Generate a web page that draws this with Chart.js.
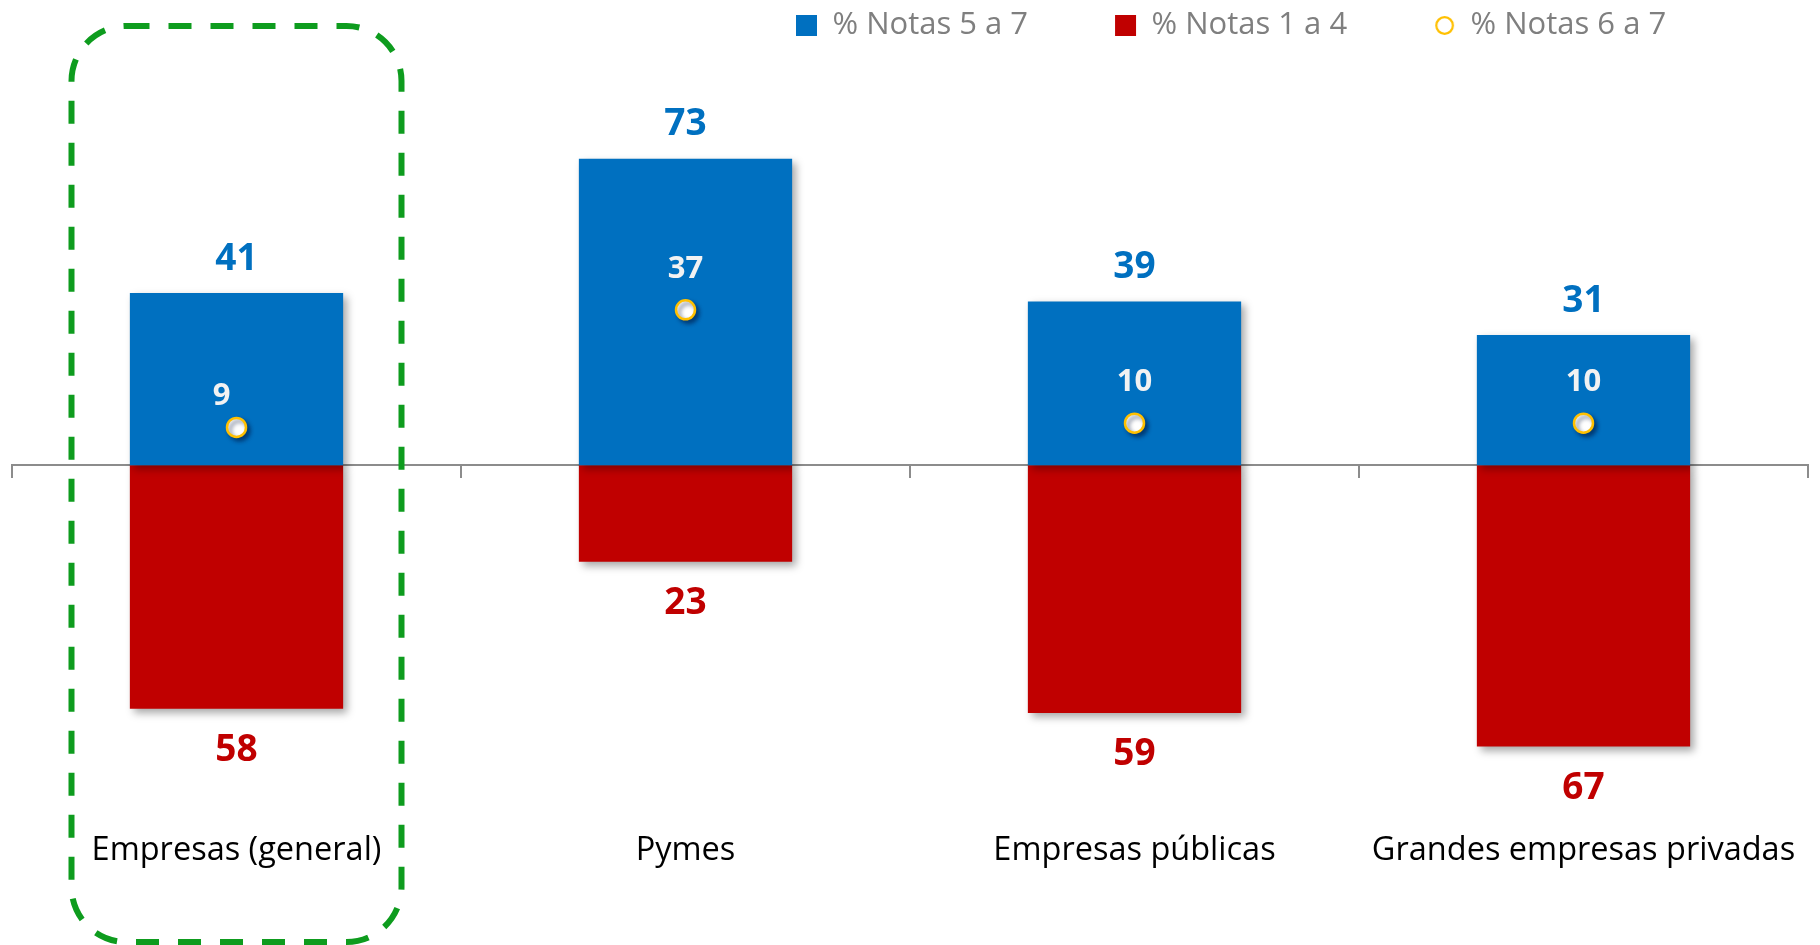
<!DOCTYPE html>
<html>
<head>
<meta charset="utf-8">
<title>Notas por tipo de empresa</title>
<script src="https://cdn.jsdelivr.net/npm/chart.js@4.4.1/dist/chart.umd.min.js"></script>
<style>
    html, body { margin: 0; padding: 0; background: #ffffff; }
    #wrap { width: 1820px; height: 945px; }
</style>
</head>
<body>
<div id="wrap"><canvas id="notasChart"></canvas></div>
<script>
const categories = ["Empresas (general)", "Pymes", "Empresas públicas", "Grandes empresas privadas"];
const seriesNames = ["% Notas 5 a 7", "% Notas 1 a 4", "% Notas 6 a 7"];
const notas57 = [41, 73, 39, 31];
const notas14 = [58, 23, 59, 67];
const notas67 = [9, 37, 10, 10];

const BLUE = "#0070C0";
const RED = "#C00000";
const GOLD = "#FFC000";
const GREEN = "#0e9c1e";
const AXIS_GRAY = "#8c8c8c";

// the label of the first point was moved by hand in the original
const pointLabelNudge = [[-15, -31], [0, -41], [0, -41], [0, -41]];

// small gold ring for the legend
const ring = document.createElement("canvas");
ring.width = 21;
ring.height = 21;
(function () {
    const c = ring.getContext("2d");
    c.beginPath();
    c.arc(10.5, 10.5, 8.3, 0, Math.PI * 2);
    c.fillStyle = "#ffffff";
    c.fill();
    c.lineWidth = 2.2;
    c.strokeStyle = GOLD;
    c.stroke();
})();
const legendStyles = ["rect", "rect", ring];

// shadow under the bars and the points
const shadowPlugin = {
    id: "shadow",
    beforeDatasetDraw(chart, args) {
        const ctx = chart.ctx;
        ctx.save();
        if (args.meta.type === "bar") {
            ctx.shadowColor = "rgba(0, 0, 0, 0.35)";
            ctx.shadowBlur = 8;
            ctx.shadowOffsetX = 4;
            ctx.shadowOffsetY = 4;
        } else {
            ctx.shadowColor = "rgba(0, 20, 60, 0.55)";
            ctx.shadowBlur = 4;
            ctx.shadowOffsetX = 3;
            ctx.shadowOffsetY = 3;
        }
    },
    afterDatasetDraw(chart) {
        chart.ctx.restore();
    },
};

// value labels on top / bottom of the bars and above the points
const labelPlugin = {
    id: "valueLabels",
    afterDatasetsDraw(chart) {
        const ctx = chart.ctx;
        ctx.save();
        ctx.textAlign = "center";
        ctx.textBaseline = "middle";

        ctx.font = "bold 37px 'Open Sans'";
        ctx.fillStyle = BLUE;
        chart.getDatasetMeta(0).data.forEach((bar, i) => {
            ctx.fillText(notas57[i], bar.x, bar.y - 34);
        });

        ctx.fillStyle = RED;
        chart.getDatasetMeta(1).data.forEach((bar, i) => {
            ctx.fillText(notas14[i], bar.x, bar.y + 42);
        });

        ctx.font = "bold 31px 'Open Sans'";
        ctx.fillStyle = "#f2f2f2";
        chart.getDatasetMeta(2).data.forEach((pt, i) => {
            const [dx, dy] = pointLabelNudge[i];
            ctx.fillText(notas67[i], pt.x + dx, pt.y + dy);
        });
        ctx.restore();
    },
};

// dashed rounded box around the first category
const highlightPlugin = {
    id: "highlight",
    afterDraw(chart) {
        const ctx = chart.ctx;
        const cx = chart.scales.x.getPixelForValue(0);
        const half = 165;
        ctx.save();
        ctx.strokeStyle = GREEN;
        ctx.lineWidth = 6;
        ctx.setLineDash([23, 19]);
        ctx.beginPath();
        ctx.roundRect(cx - half, 26, half * 2, 916, 55);
        ctx.stroke();
        ctx.restore();
    },
};

// move the legend to where it sits in the original slide
const legendPlace = {
    id: "legendPlace",
    afterLayout(chart) {
        const l = chart.legend;
        const pad = l.options.labels.padding;
        const dx = 796 - (l.left + pad);
        const dy = 10 - (l.top + pad);
        l.left += dx;
        l.right += dx;
        l.top += dy;
        l.bottom += dy;
    },
};

const ctx = document.getElementById("notasChart").getContext("2d");

const myChart = new Chart(ctx, {
    type: "bar",
    data: {
        labels: categories,
        datasets: [
            {
                label: seriesNames[0],
                data: notas57,
                backgroundColor: BLUE,
                categoryPercentage: 1,
                barPercentage: 0.475,
                order: 1,
            },
            {
                label: seriesNames[1],
                data: notas14.map((v) => -v),
                backgroundColor: RED,
                categoryPercentage: 1,
                barPercentage: 0.475,
                order: 1,
            },
            {
                type: "line",
                label: seriesNames[2],
                data: notas67,
                showLine: false,
                stack: "puntos",
                pointRadius: 9.5,
                pointHoverRadius: 9.5,
                pointBorderWidth: 2.5,
                pointBackgroundColor: "#ffffff",
                pointBorderColor: GOLD,
                backgroundColor: "#ffffff",
                borderColor: GOLD,
                borderWidth: 2,
                order: 0,
            },
        ],
    },
    options: {
        responsive: true,
        maintainAspectRatio: false,
        animation: false,
        layout: {
            padding: { left: 10, right: 10, top: 0, bottom: 43 },
        },
        plugins: {
            tooltip: { enabled: false },
            legend: {
                position: "top",
                align: "start",
                labels: {
                    usePointStyle: true,
                    boxWidth: 21,
                    boxHeight: 21,
                    padding: 87,
                    color: "#7f7f7f",
                    font: { family: "'Open Sans', sans-serif", size: 31 },
                    sort: (a, b) => a.datasetIndex - b.datasetIndex,
                    generateLabels(chart) {
                        const items = Chart.defaults.plugins.legend.labels.generateLabels(chart);
                        items.forEach((it) => {
                            it.pointStyle = legendStyles[it.datasetIndex];
                        });
                        return items;
                    },
                },
            },
        },
        scales: {
            x: {
                stacked: true,
                offset: true,
                grid: { display: false, drawTicks: false },
                border: { display: false },
                ticks: {
                    color: "#000000",
                    padding: 32,
                    maxRotation: 0,
                    autoSkip: false,
                    font: { family: "'Open Sans', sans-serif", size: 32.5 },
                },
                afterFit(scale) {
                    // labels fit inside their own category, no extra side room
                    scale.paddingLeft = 0;
                    scale.paddingRight = 0;
                },
            },
            x2: {
                type: "category",
                position: { y: 0 },
                offset: true,
                z: 1,
                grid: {
                    offset: true,
                    drawOnChartArea: false,
                    drawTicks: true,
                    tickLength: 12,
                    color: AXIS_GRAY,
                    lineWidth: 2,
                },
                border: { display: true, color: AXIS_GRAY, width: 2 },
                ticks: { display: false },
            },
            y: {
                stacked: true,
                display: false,
                min: -79.5,
                max: 80.3,
            },
        },
    },
    plugins: [shadowPlugin, labelPlugin, highlightPlugin, legendPlace],
});
</script>
</body>
</html>
